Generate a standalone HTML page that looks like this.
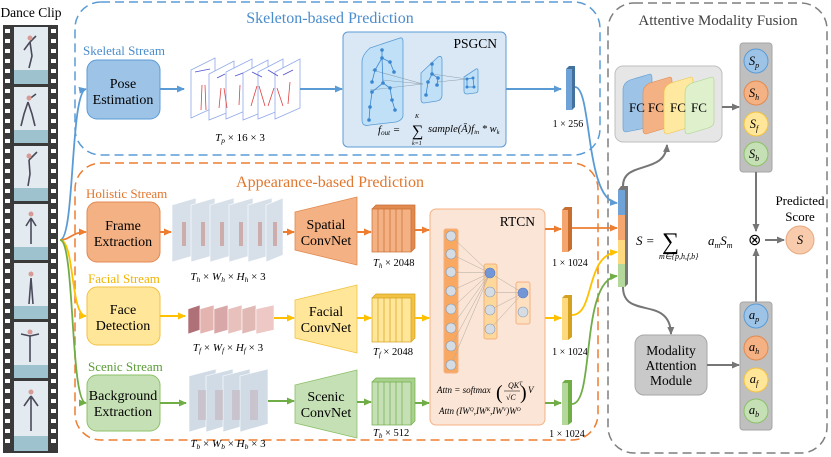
<!DOCTYPE html>
<html><head><meta charset="utf-8"><style>
html,body{margin:0;padding:0;background:#fff;}
svg{display:block;font-family:"Liberation Serif",serif;}
.it{font-style:italic;}
</style></head><body>
<svg width="831" height="457" viewBox="0 0 831 457" xmlns="http://www.w3.org/2000/svg">
<defs>
<marker id="ab" markerWidth="8" markerHeight="8" refX="7" refY="4" orient="auto" markerUnits="userSpaceOnUse"><path d="M0,0.5 L8,4 L0,7.5z" fill="#5b9bd5"/></marker>
<marker id="ao" markerWidth="8" markerHeight="8" refX="7" refY="4" orient="auto" markerUnits="userSpaceOnUse"><path d="M0,0.5 L8,4 L0,7.5z" fill="#ed7d31"/></marker>
<marker id="ay" markerWidth="8" markerHeight="8" refX="7" refY="4" orient="auto" markerUnits="userSpaceOnUse"><path d="M0,0.5 L8,4 L0,7.5z" fill="#ffc000"/></marker>
<marker id="ag" markerWidth="8" markerHeight="8" refX="7" refY="4" orient="auto" markerUnits="userSpaceOnUse"><path d="M0,0.5 L8,4 L0,7.5z" fill="#70ad47"/></marker>
<marker id="ak" markerWidth="8" markerHeight="8" refX="7" refY="4" orient="auto" markerUnits="userSpaceOnUse"><path d="M0,0.5 L8,4 L0,7.5z" fill="#767676"/></marker>
</defs>

<!-- film strip -->
<text x="31" y="17" font-size="13.5" text-anchor="middle">Dance Clip</text>
<rect x="3" y="25" width="55" height="428" fill="#3a3a3a"/>
<g fill="#e3ebf0">
<rect x="14" y="27" width="34" height="57"/><rect x="14" y="87" width="34" height="56"/><rect x="14" y="146" width="34" height="55"/><rect x="14" y="204" width="34" height="56"/><rect x="14" y="263" width="34" height="56"/><rect x="14" y="322" width="34" height="56"/><rect x="14" y="381" width="34" height="70"/>
</g>
<g fill="#9ec3cf"><rect x="14" y="70" width="34" height="14"/><rect x="14" y="130" width="34" height="13"/><rect x="14" y="188" width="34" height="13"/><rect x="14" y="247" width="34" height="13"/><rect x="14" y="306" width="34" height="13"/><rect x="14" y="365" width="34" height="13"/><rect x="14" y="436" width="34" height="15"/></g>
<g stroke="#4a4a5a" stroke-width="1.6" fill="none">
<path d="M30,42 l2,14 l-3,12 M30,42 l-6,8 M30,42 l6,-6 M28,102 l-4,12 l-3,12 M28,102 l4,12 l3,12 M28,100 l8,-6 M29,160 l1,14 l-2,12 M29,160 l8,-8 M31,218 l0,26 M31,218 l-5,8 M31,218 l5,8 M31,278 l-2,26 M31,278 l2,26 M30,336 l0,26 M30,336 l-9,-2 M30,336 l9,-2 M31,396 l0,35 M31,396 l-7,10 M31,396 l7,10"/></g>
<g fill="#d89a94"><circle cx="30" cy="38" r="2.5"/><circle cx="29" cy="98" r="2.5"/><circle cx="29" cy="156" r="2.5"/><circle cx="31" cy="214" r="2.5"/><circle cx="31" cy="274" r="2.5"/><circle cx="30" cy="332" r="2.5"/><circle cx="31" cy="392" r="2.5"/></g>
<g fill="#fff">
<rect x="5" y="29" width="5" height="4"/><rect x="5" y="39" width="5" height="4"/><rect x="5" y="49" width="5" height="4"/><rect x="5" y="59" width="5" height="4"/><rect x="5" y="69" width="5" height="4"/><rect x="5" y="79" width="5" height="4"/><rect x="5" y="89" width="5" height="4"/><rect x="5" y="99" width="5" height="4"/><rect x="5" y="109" width="5" height="4"/><rect x="5" y="119" width="5" height="4"/><rect x="5" y="129" width="5" height="4"/><rect x="5" y="139" width="5" height="4"/><rect x="5" y="149" width="5" height="4"/><rect x="5" y="159" width="5" height="4"/><rect x="5" y="169" width="5" height="4"/><rect x="5" y="179" width="5" height="4"/><rect x="5" y="189" width="5" height="4"/><rect x="5" y="199" width="5" height="4"/><rect x="5" y="209" width="5" height="4"/><rect x="5" y="219" width="5" height="4"/><rect x="5" y="229" width="5" height="4"/><rect x="5" y="239" width="5" height="4"/><rect x="5" y="249" width="5" height="4"/><rect x="5" y="259" width="5" height="4"/><rect x="5" y="269" width="5" height="4"/><rect x="5" y="279" width="5" height="4"/><rect x="5" y="289" width="5" height="4"/><rect x="5" y="299" width="5" height="4"/><rect x="5" y="309" width="5" height="4"/><rect x="5" y="319" width="5" height="4"/><rect x="5" y="329" width="5" height="4"/><rect x="5" y="339" width="5" height="4"/><rect x="5" y="349" width="5" height="4"/><rect x="5" y="359" width="5" height="4"/><rect x="5" y="369" width="5" height="4"/><rect x="5" y="379" width="5" height="4"/><rect x="5" y="389" width="5" height="4"/><rect x="5" y="399" width="5" height="4"/><rect x="5" y="409" width="5" height="4"/><rect x="5" y="419" width="5" height="4"/><rect x="5" y="429" width="5" height="4"/><rect x="5" y="439" width="5" height="4"/>
</g>
<g fill="#fff" transform="translate(46,0)">
<rect x="5" y="29" width="5" height="4"/><rect x="5" y="39" width="5" height="4"/><rect x="5" y="49" width="5" height="4"/><rect x="5" y="59" width="5" height="4"/><rect x="5" y="69" width="5" height="4"/><rect x="5" y="79" width="5" height="4"/><rect x="5" y="89" width="5" height="4"/><rect x="5" y="99" width="5" height="4"/><rect x="5" y="109" width="5" height="4"/><rect x="5" y="119" width="5" height="4"/><rect x="5" y="129" width="5" height="4"/><rect x="5" y="139" width="5" height="4"/><rect x="5" y="149" width="5" height="4"/><rect x="5" y="159" width="5" height="4"/><rect x="5" y="169" width="5" height="4"/><rect x="5" y="179" width="5" height="4"/><rect x="5" y="189" width="5" height="4"/><rect x="5" y="199" width="5" height="4"/><rect x="5" y="209" width="5" height="4"/><rect x="5" y="219" width="5" height="4"/><rect x="5" y="229" width="5" height="4"/><rect x="5" y="239" width="5" height="4"/><rect x="5" y="249" width="5" height="4"/><rect x="5" y="259" width="5" height="4"/><rect x="5" y="269" width="5" height="4"/><rect x="5" y="279" width="5" height="4"/><rect x="5" y="289" width="5" height="4"/><rect x="5" y="299" width="5" height="4"/><rect x="5" y="309" width="5" height="4"/><rect x="5" y="319" width="5" height="4"/><rect x="5" y="329" width="5" height="4"/><rect x="5" y="339" width="5" height="4"/><rect x="5" y="349" width="5" height="4"/><rect x="5" y="359" width="5" height="4"/><rect x="5" y="369" width="5" height="4"/><rect x="5" y="379" width="5" height="4"/><rect x="5" y="389" width="5" height="4"/><rect x="5" y="399" width="5" height="4"/><rect x="5" y="409" width="5" height="4"/><rect x="5" y="419" width="5" height="4"/><rect x="5" y="429" width="5" height="4"/><rect x="5" y="439" width="5" height="4"/>
</g>

<!-- dashed containers -->
<rect x="75" y="2" width="525" height="153" rx="26" fill="none" stroke="#5b9bd5" stroke-width="1.5" stroke-dasharray="9,5"/>
<rect x="75" y="163" width="523" height="277" rx="26" fill="none" stroke="#ed7d31" stroke-width="1.5" stroke-dasharray="9,5"/>
<rect x="608" y="3" width="219" height="450" rx="26" fill="none" stroke="#7f7f7f" stroke-width="1.5" stroke-dasharray="9,5"/>
<text x="330" y="23" font-size="16" fill="#4a8ccc" text-anchor="middle">Skeleton-based Prediction</text>
<text x="330" y="187" font-size="16" fill="#e0772e" text-anchor="middle">Appearance-based Prediction</text>
<text x="718" y="25" font-size="15" fill="#404040" text-anchor="middle">Attentive Modality Fusion</text>

<!-- skeletal stream -->
<text x="83" y="55" font-size="13" fill="#4a8ccc">Skeletal Stream</text>
<rect x="87" y="60" width="73" height="59" rx="10" fill="#9dc3e6" stroke="#5b9bd5"/>
<text x="123" y="88" font-size="14" text-anchor="middle">Pose</text>
<text x="123" y="104" font-size="14" text-anchor="middle">Estimation</text>
<line x1="160" y1="89" x2="184" y2="89" stroke="#5b9bd5" stroke-width="2" marker-end="url(#ab)"/>
<g stroke="#8fa8e8" fill="#fff" stroke-width="0.8">
<path d="M191,70 L215,58 L215,107 L191,118z"/><path d="M209,74 L234,61 L234,110 L209,120z"/><path d="M226,72 L252,59 L252,108 L226,119z"/><path d="M243,73 L268,60 L268,110 L243,120z"/><path d="M258,72 L283,59 L283,109 L258,119z"/><path d="M275,72 L300,59 L300,108 L275,119z"/>
</g>
<g stroke="#e04040" stroke-width="0.8" fill="none"><path d="M202,85 l-1,25 M205,85 l1,25 M221,88 l-2,20 M224,88 l3,20 M240,85 l-1,20 M257,86 l-6,20 M259,86 l6,20 M274,88 l-6,18 M277,88 l6,18 M290,82 l-2,22"/></g>
<g stroke="#5050d0" stroke-width="0.8" fill="none"><path d="M195,72 l15,-3 M217,78 l8,-4 M235,76 l8,-3 M252,72 l10,5 M268,70 l10,6 M283,75 l10,-5"/></g>
<text x="240" y="141" font-size="11" text-anchor="middle"><tspan class="it">T</tspan><tspan font-size="7.5" class="it" dy="2">p</tspan><tspan dy="-2"> × 16 × 3</tspan></text>
<line x1="300" y1="89" x2="342" y2="89" stroke="#5b9bd5" stroke-width="2" marker-end="url(#ab)"/>
<rect x="343" y="32" width="163" height="115" rx="5" fill="#dae8f5" stroke="#5b9bd5"/>
<text x="497" y="48" font-size="13.5" text-anchor="end">PSGCN</text>
<path d="M362,62 Q362,55 370,48 L400,38 Q403,37 403,42 L403,115 Q403,120 396,122 L370,125 Q362,127 362,120z" fill="#bfe0f7" stroke="#5b9bd5" stroke-width="0.8"/>
<path d="M421,73 L438,57 Q442,55 442,60 L442,95 Q442,100 437,101 L424,103 Q421,103 421,99z" fill="#bfe0f7" stroke="#5b9bd5" stroke-width="0.8"/>
<path d="M464,77 L476,69 Q478,68 478,71 L478,90 Q478,93 475,93 L467,94 Q464,94 464,91z" fill="#bfe0f7" stroke="#5b9bd5" stroke-width="0.8"/>
<g stroke="#8a9fb0" stroke-width="0.6"><line x1="372" y1="70" x2="423" y2="84"/><line x1="370" y1="90" x2="423" y2="84"/><line x1="382" y1="80" x2="423" y2="84"/><line x1="432" y1="74" x2="467" y2="79"/><line x1="437" y1="82" x2="467" y2="79"/></g>
<g stroke="#3a86d0" stroke-width="0.8" fill="none"><path d="M382,50 L382,58 L375,70 L372,82 M382,58 L390,62 L394,72 M382,58 L383,83 L372,92 L370,107 L369,120 M383,83 L390,88 L392,100 L395,110"/><path d="M432,64 L432,74 L428,82 L426,95 M432,74 L438,78 L437,85"/><path d="M467,79 L473,78 L474,87 L467,87z"/></g>
<g fill="#3a86d0"><circle cx="382" cy="50" r="1.8"/><circle cx="382" cy="58" r="1.8"/><circle cx="375" cy="70" r="1.8"/><circle cx="372" cy="82" r="1.8"/><circle cx="390" cy="62" r="1.8"/><circle cx="394" cy="72" r="1.8"/><circle cx="383" cy="83" r="1.8"/><circle cx="372" cy="92" r="1.8"/><circle cx="370" cy="107" r="1.8"/><circle cx="369" cy="120" r="1.8"/><circle cx="390" cy="88" r="1.8"/><circle cx="392" cy="100" r="1.8"/><circle cx="395" cy="110" r="1.8"/><circle cx="432" cy="64" r="1.8"/><circle cx="432" cy="74" r="1.8"/><circle cx="428" cy="82" r="1.8"/><circle cx="426" cy="95" r="1.8"/><circle cx="438" cy="78" r="1.8"/><circle cx="437" cy="85" r="1.8"/><circle cx="467" cy="79" r="1.5"/><circle cx="473" cy="78" r="1.5"/><circle cx="474" cy="87" r="1.5"/><circle cx="467" cy="87" r="1.5"/></g>
<text x="378" y="133" font-size="11" class="it">f<tspan font-size="7" dy="2">out</tspan><tspan dy="-2"> = </tspan></text>
<text x="412" y="136" font-size="16">∑</text>
<text x="415" y="118" font-size="6" class="it">K</text>
<text x="412" y="145" font-size="6" class="it">k=1</text>
<text x="428" y="132" font-size="10.5" class="it">sample(Ā)f<tspan font-size="6.5" dy="2">in</tspan><tspan dy="-2"> * w</tspan><tspan font-size="6.5" dy="2">k</tspan></text>
<line x1="506" y1="89" x2="561" y2="89" stroke="#5b9bd5" stroke-width="2" marker-end="url(#ab)"/>
<path d="M566,69 L569,66 L575,66 L575,107 L572,110z" fill="#41719c"/>
<rect x="566" y="69" width="6" height="41" fill="#6fa3d8"/>
<text x="568" y="127" font-size="10" text-anchor="middle">1 × 256</text>

<!-- input curves -->
<path d="M60,240 C75,240 70,92 86,89" stroke="#5b9bd5" stroke-width="1.8" fill="none" marker-end="url(#ab)"/>
<path d="M60,240 C70,240 72,232 86,232" stroke="#ed7d31" stroke-width="1.8" fill="none" marker-end="url(#ao)"/>
<path d="M60,240 C75,240 70,316 86,316" stroke="#ffc000" stroke-width="1.8" fill="none" marker-end="url(#ay)"/>
<path d="M60,240 C75,240 70,403 86,403" stroke="#70ad47" stroke-width="1.8" fill="none" marker-end="url(#ag)"/>

<!-- holistic -->
<text x="86" y="198" font-size="13" fill="#e0772e">Holistic Stream</text>
<rect x="87" y="202" width="73" height="60" rx="10" fill="#f4b183" stroke="#e08a50"/>
<text x="123" y="230" font-size="14" text-anchor="middle">Frame</text>
<text x="123" y="246" font-size="14" text-anchor="middle">Extraction</text>
<line x1="160" y1="232" x2="171" y2="232" stroke="#ed7d31" stroke-width="2" marker-end="url(#ao)"/>
<g stroke="#fff" stroke-width="0.6" fill="#d5dfe8" opacity="0.95">
<path d="M172,205 L196,198 L196,255 L172,262z"/><path d="M191,205 L215,198 L215,255 L191,262z"/><path d="M210,205 L234,198 L234,255 L210,262z"/><path d="M229,205 L253,198 L253,255 L229,262z"/><path d="M248,205 L272,198 L272,255 L248,262z"/><path d="M266,205 L283,198 L283,255 L266,262z"/></g>
<g fill="#c88a84" opacity="0.6"><rect x="182" y="222" width="4" height="24"/><rect x="201" y="222" width="4" height="24"/><rect x="220" y="222" width="4" height="24"/><rect x="239" y="222" width="4" height="24"/><rect x="258" y="222" width="4" height="24"/><rect x="273" y="222" width="4" height="24"/></g>
<text x="228" y="280" font-size="11" text-anchor="middle" class="it">T<tspan font-size="7.5" dy="2">h</tspan><tspan dy="-2" font-style="normal"> × </tspan>W<tspan font-size="7.5" dy="2">h</tspan><tspan dy="-2" font-style="normal"> × </tspan>H<tspan font-size="7.5" dy="2">h</tspan><tspan dy="-2" font-style="normal"> × 3</tspan></text>
<line x1="283" y1="232" x2="294" y2="232" stroke="#ed7d31" stroke-width="2" marker-end="url(#ao)"/>
<path d="M295,212 L357,197 L357,265 L295,250z" fill="#f4b183" stroke="#e08a50" stroke-width="0.8"/>
<text x="326" y="229" font-size="14" text-anchor="middle">Spatial</text>
<text x="326" y="245" font-size="14" text-anchor="middle">ConvNet</text>
<line x1="357" y1="232" x2="371" y2="232" stroke="#ed7d31" stroke-width="2" marker-end="url(#ao)"/>

<!-- facial -->
<text x="88" y="283" font-size="13" fill="#f0b400">Facial Stream</text>
<rect x="87" y="287" width="73" height="58" rx="10" fill="#ffe699" stroke="#f2c242"/>
<text x="123" y="314" font-size="14" text-anchor="middle">Face</text>
<text x="123" y="330" font-size="14" text-anchor="middle">Detection</text>
<line x1="160" y1="316" x2="185" y2="316" stroke="#ffc000" stroke-width="2" marker-end="url(#ay)"/>
<g stroke="#fff" stroke-width="0.6"><path d="M188,309 L200,305 L200,330 L188,334z" fill="#b07078"/><path d="M200,309 L214,305 L214,330 L200,334z" fill="#e4b4b0"/><path d="M214,309 L228,305 L228,330 L214,334z" fill="#d8a8a8"/><path d="M228,309 L242,305 L242,330 L228,334z" fill="#e8c0bc"/><path d="M242,309 L256,305 L256,330 L242,334z" fill="#e0b8b4"/><path d="M256,309 L274,305 L274,330 L256,334z" fill="#edc8c4"/></g>
<text x="228" y="351" font-size="11" text-anchor="middle" class="it">T<tspan font-size="7.5" dy="2">f</tspan><tspan dy="-2" font-style="normal"> × </tspan>W<tspan font-size="7.5" dy="2">f</tspan><tspan dy="-2" font-style="normal"> × </tspan>H<tspan font-size="7.5" dy="2">f</tspan><tspan dy="-2" font-style="normal"> × 3</tspan></text>
<line x1="274" y1="318" x2="294" y2="318" stroke="#ffc000" stroke-width="2" marker-end="url(#ay)"/>
<path d="M295,300 L357,285 L357,353 L295,338z" fill="#ffe699" stroke="#f2c242" stroke-width="0.8"/>
<text x="326" y="316" font-size="14" text-anchor="middle">Facial</text>
<text x="326" y="332" font-size="14" text-anchor="middle">ConvNet</text>
<line x1="357" y1="318" x2="371" y2="318" stroke="#ffc000" stroke-width="2" marker-end="url(#ay)"/>

<!-- scenic -->
<text x="88" y="371" font-size="13" fill="#5a9c38">Scenic Stream</text>
<rect x="87" y="375" width="73" height="56" rx="10" fill="#c5e0b4" stroke="#8cc06a"/>
<text x="123" y="400" font-size="14" text-anchor="middle">Background</text>
<text x="123" y="416" font-size="14" text-anchor="middle">Extraction</text>
<line x1="160" y1="403" x2="186" y2="403" stroke="#70ad47" stroke-width="2" marker-end="url(#ag)"/>
<g stroke="#fff" stroke-width="0.6" fill="#d0dbe6"><path d="M189,376 L216,369 L216,424 L189,432z"/><path d="M206,376 L233,369 L233,424 L206,432z"/><path d="M223,376 L250,369 L250,424 L223,432z"/><path d="M240,376 L268,369 L268,424 L240,432z"/></g>
<g fill="#c0a8b0" opacity="0.45"><rect x="198" y="390" width="8" height="30"/><rect x="215" y="390" width="8" height="30"/><rect x="232" y="390" width="8" height="30"/><rect x="250" y="390" width="8" height="30"/></g>
<text x="228" y="447" font-size="11" text-anchor="middle" class="it">T<tspan font-size="7.5" dy="2">b</tspan><tspan dy="-2" font-style="normal"> × </tspan>W<tspan font-size="7.5" dy="2">b</tspan><tspan dy="-2" font-style="normal"> × </tspan>H<tspan font-size="7.5" dy="2">b</tspan><tspan dy="-2" font-style="normal"> × 3</tspan></text>
<line x1="268" y1="401" x2="294" y2="401" stroke="#70ad47" stroke-width="2" marker-end="url(#ag)"/>
<path d="M295,385 L357,370 L357,438 L295,423z" fill="#c5e0b4" stroke="#8cc06a" stroke-width="0.8"/>
<text x="326" y="401" font-size="14" text-anchor="middle">Scenic</text>
<text x="326" y="417" font-size="14" text-anchor="middle">ConvNet</text>
<line x1="357" y1="402" x2="371" y2="402" stroke="#70ad47" stroke-width="2" marker-end="url(#ag)"/>

<!-- feature stacks -->
<g stroke-width="0.7">
<path d="M372,209 L376,205 L415,205 L415,248 L411,252z" fill="#e08a50" stroke="#c86d30"/>
<rect x="372" y="209" width="39" height="43" fill="#f4b183" stroke="#c86d30"/>
<path d="M378,209 V252 M384,209 V252 M390,209 V252 M396,209 V252 M402,209 V252" stroke="#c86d30"/>
<path d="M372,298 L376,294 L415,294 L415,338 L411,342z" fill="#f2c242" stroke="#d4a020"/>
<rect x="372" y="298" width="39" height="44" fill="#ffe699" stroke="#d4a020"/>
<path d="M378,298 V342 M384,298 V342 M390,298 V342 M396,298 V342 M402,298 V342" stroke="#d4a020"/>
<path d="M372,382 L376,378 L415,378 L415,421 L411,425z" fill="#a9d18e" stroke="#70ad47"/>
<rect x="372" y="382" width="39" height="43" fill="#c5e0b4" stroke="#70ad47"/>
<path d="M378,382 V425 M384,382 V425 M390,382 V425 M396,382 V425 M402,382 V425" stroke="#70ad47"/>
</g>
<text x="373" y="266" font-size="10.5" class="it">T<tspan font-size="7" dy="2">h</tspan><tspan dy="-2" font-style="normal"> × 2048</tspan></text>
<text x="373" y="355" font-size="10.5" class="it">T<tspan font-size="7" dy="2">f</tspan><tspan dy="-2" font-style="normal"> × 2048</tspan></text>
<text x="373" y="436" font-size="10.5" class="it">T<tspan font-size="7" dy="2">b</tspan><tspan dy="-2" font-style="normal"> × 512</tspan></text>
<line x1="415" y1="230" x2="429" y2="230" stroke="#ed7d31" stroke-width="2" marker-end="url(#ao)"/>
<line x1="415" y1="318" x2="429" y2="318" stroke="#ffc000" stroke-width="2" marker-end="url(#ay)"/>
<line x1="415" y1="403" x2="429" y2="403" stroke="#70ad47" stroke-width="2" marker-end="url(#ag)"/>

<!-- RTCN -->
<rect x="430" y="209" width="115" height="216" rx="6" fill="#fbe5d6" stroke="#f4b183"/>
<text x="535" y="226" font-size="13.5" text-anchor="end">RTCN</text>
<rect x="444" y="229" width="14" height="144" rx="2" fill="#f8a860" stroke="#f4b183"/>
<rect x="484" y="264" width="13" height="75" rx="2" fill="#fdd89a" stroke="#f4b183"/>
<rect x="516" y="282" width="14" height="42" rx="2" fill="#fde0c0" stroke="#f4b183"/>
<g stroke="#b0a8a0" stroke-width="0.5">
<line x1="451" y1="236" x2="490" y2="273"/><line x1="451" y1="254" x2="490" y2="273"/><line x1="451" y1="272" x2="490" y2="273"/><line x1="451" y1="291" x2="490" y2="273"/><line x1="451" y1="309" x2="490" y2="273"/><line x1="451" y1="328" x2="490" y2="273"/><line x1="451" y1="346" x2="490" y2="273"/><line x1="451" y1="365" x2="490" y2="273"/>
<line x1="490" y1="273" x2="523" y2="293"/><line x1="490" y1="292" x2="523" y2="293"/><line x1="490" y1="310" x2="523" y2="293"/><line x1="490" y1="329" x2="523" y2="293"/>
</g>
<g fill="#d6dce4" stroke="#8a9ab0" stroke-width="0.6">
<circle cx="451" cy="236" r="5"/><circle cx="451" cy="254" r="5"/><circle cx="451" cy="272" r="5"/><circle cx="451" cy="291" r="5"/><circle cx="451" cy="309" r="5"/><circle cx="451" cy="328" r="5"/><circle cx="451" cy="346" r="5"/><circle cx="451" cy="365" r="5"/>
<circle cx="490" cy="292" r="5"/><circle cx="490" cy="310" r="5"/><circle cx="490" cy="329" r="5"/><circle cx="523" cy="312" r="5"/>
</g>
<circle cx="490" cy="273" r="5" fill="#7396d6" stroke="#5b7bc0" stroke-width="0.6"/>
<circle cx="523" cy="293" r="5" fill="#7396d6" stroke="#5b7bc0" stroke-width="0.6"/>
<text x="437" y="393" font-size="9" class="it">Attn = softmax</text>
<text x="496" y="399" font-size="20" font-weight="lighter">(</text>
<text x="508" y="388" font-size="8" class="it">QK<tspan font-size="5.5" dy="-3">T</tspan></text>
<line x1="504" y1="391" x2="520" y2="391" stroke="#000" stroke-width="0.5"/>
<text x="506" y="400" font-size="8" class="it">√C</text>
<text x="520" y="399" font-size="20">)</text>
<text x="528" y="393" font-size="9" class="it">V</text>
<text x="439" y="414" font-size="9" class="it">Attn (IW<tspan font-size="5.5" dy="-3">Q</tspan><tspan dy="3">,IW</tspan><tspan font-size="5.5" dy="-3">K</tspan><tspan dy="3">,IW</tspan><tspan font-size="5.5" dy="-3">V</tspan><tspan dy="3">)W</tspan><tspan font-size="5.5" dy="-3">O</tspan></text>
<line x1="545" y1="229" x2="561" y2="229" stroke="#ed7d31" stroke-width="2" marker-end="url(#ao)"/>
<line x1="545" y1="318" x2="561" y2="318" stroke="#ffc000" stroke-width="2" marker-end="url(#ay)"/>
<line x1="545" y1="403" x2="561" y2="403" stroke="#70ad47" stroke-width="2" marker-end="url(#ag)"/>

<!-- output bars -->
<path d="M562,210 L565,207 L572,207 L572,249 L568,252z" fill="#c86d30"/><rect x="562" y="210" width="6" height="42" fill="#f4a66e"/>
<path d="M562,298 L565,295 L572,295 L572,337 L568,340z" fill="#d4a020"/><rect x="562" y="298" width="6" height="42" fill="#ffd980"/>
<path d="M562,383 L565,380 L572,380 L572,422 L568,425z" fill="#70ad47"/><rect x="562" y="383" width="6" height="42" fill="#b4d89c"/>
<text x="570" y="266" font-size="10" text-anchor="middle">1 × 1024</text>
<text x="570" y="355" font-size="10" text-anchor="middle">1 × 1024</text>
<text x="567" y="437" font-size="10" text-anchor="middle">1 × 1024</text>

<!-- to concat -->
<path d="M575,87 C592,87 585,200 617,203" stroke="#5b9bd5" stroke-width="1.8" fill="none" marker-end="url(#ab)"/>
<line x1="572" y1="228" x2="617" y2="228" stroke="#ed7d31" stroke-width="1.8" marker-end="url(#ao)"/>
<path d="M572,315 C595,315 585,255 617,252" stroke="#ffc000" stroke-width="1.8" fill="none" marker-end="url(#ay)"/>
<path d="M572,404 C595,404 580,280 617,276" stroke="#70ad47" stroke-width="1.8" fill="none" marker-end="url(#ag)"/>
<!-- concat bar -->
<path d="M618,190 L621,186 L628,186 L628,284 L625,287z" fill="#777"/>
<rect x="618" y="190" width="7" height="25" fill="#6fa3d8"/>
<rect x="618" y="215" width="7" height="25" fill="#f4a66e"/>
<rect x="618" y="240" width="7" height="24" fill="#ffd980"/>
<rect x="618" y="264" width="7" height="23" fill="#b4d89c"/>

<!-- fusion -->
<path d="M623,186 C623,160 665,175 667,145" stroke="#767676" stroke-width="2" fill="none" marker-end="url(#ak)"/>
<path d="M623,287 C623,320 670,295 671,334" stroke="#767676" stroke-width="2" fill="none" marker-end="url(#ak)"/>
<rect x="615" y="66" width="107" height="76" rx="8" fill="#e6e6e6" stroke="#bfbfbf"/>
<path d="M623,90 Q623,83 630,80 L650,74 Q652,74 652,78 L652,122 Q652,126 646,128 L626,132 Q623,132 623,128z" fill="#9dc3e6" stroke="#5b9bd5" stroke-width="0.6"/>
<path d="M643,93 Q643,86 650,83 L670,77 Q672,77 672,81 L672,122 Q672,126 666,128 L646,134 Q643,134 643,130z" fill="#f4b183" stroke="#e08a50" stroke-width="0.6"/>
<path d="M664,93 Q664,86 671,83 L691,77 Q693,77 693,81 L693,122 Q693,126 687,128 L667,134 Q664,134 664,130z" fill="#ffe9a0" stroke="#f2c242" stroke-width="0.6"/>
<path d="M685,93 Q685,86 692,83 L712,77 Q714,77 714,81 L714,122 Q714,126 708,128 L688,134 Q685,134 685,130z" fill="#dff0cc" stroke="#a9d18e" stroke-width="0.6"/>
<text x="629" y="112" font-size="13">FC</text><text x="648" y="112" font-size="13">FC</text><text x="670" y="112" font-size="13">FC</text><text x="691" y="112" font-size="13">FC</text>
<line x1="722" y1="107" x2="739" y2="107" stroke="#767676" stroke-width="2" marker-end="url(#ak)"/>
<rect x="740" y="43" width="32" height="129" rx="3" fill="#bfbfbf" stroke="#a6a6a6"/>
<circle cx="756" cy="61" r="12" fill="#9dc3e6" stroke="#5b9bd5"/>
<circle cx="756" cy="93" r="12" fill="#f4b183" stroke="#e08a50"/>
<circle cx="756" cy="124" r="12" fill="#ffe699" stroke="#f2c242"/>
<circle cx="756" cy="154" r="12" fill="#c5e0b4" stroke="#8cc06a"/>
<g font-size="12.5" class="it" text-anchor="middle"><text x="754" y="65">S<tspan font-size="8" dy="3">p</tspan></text><text x="754" y="97">S<tspan font-size="8" dy="3">h</tspan></text><text x="754" y="128">S<tspan font-size="8" dy="3">f</tspan></text><text x="754" y="158">S<tspan font-size="8" dy="3">b</tspan></text></g>
<line x1="756" y1="172" x2="756" y2="231" stroke="#767676" stroke-width="2" marker-end="url(#ak)"/>
<line x1="756" y1="302" x2="756" y2="249" stroke="#767676" stroke-width="2" marker-end="url(#ak)"/>
<text x="748" y="245" font-size="16">⊗</text>
<line x1="765" y1="240" x2="784" y2="240" stroke="#767676" stroke-width="2" marker-end="url(#ak)"/>
<circle cx="800" cy="240" r="14" fill="#f8cbad" stroke="#e8a880"/>
<text x="800" y="244" font-size="12.5" class="it" text-anchor="middle">S</text>
<text x="800" y="205" font-size="13" text-anchor="middle">Predicted</text>
<text x="800" y="221" font-size="13" text-anchor="middle">Score</text>
<text x="636" y="245" font-size="13" class="it">S =</text>
<text x="662" y="249" font-size="24">∑</text>
<text x="659" y="259" font-size="8" class="it">m∈{p,h,f,b}</text>
<text x="708" y="245" font-size="13" class="it">a<tspan font-size="8" dy="3">m</tspan><tspan dy="-3">S</tspan><tspan font-size="8" dy="3">m</tspan></text>

<rect x="635" y="335" width="72" height="60" rx="9" fill="#c9c9c9" stroke="#a6a6a6"/>
<text x="671" y="355" font-size="13.5" text-anchor="middle">Modality</text>
<text x="671" y="370" font-size="13.5" text-anchor="middle">Attention</text>
<text x="671" y="385" font-size="13.5" text-anchor="middle">Module</text>
<line x1="707" y1="365" x2="739" y2="365" stroke="#767676" stroke-width="2" marker-end="url(#ak)"/>
<rect x="740" y="302" width="32" height="128" rx="3" fill="#bfbfbf" stroke="#a6a6a6"/>
<circle cx="756" cy="316" r="12" fill="#9dc3e6" stroke="#5b9bd5"/>
<circle cx="756" cy="348" r="12" fill="#f4b183" stroke="#e08a50"/>
<circle cx="756" cy="380" r="12" fill="#ffe699" stroke="#f2c242"/>
<circle cx="756" cy="411" r="12" fill="#c5e0b4" stroke="#8cc06a"/>
<g font-size="12.5" class="it" text-anchor="middle"><text x="754" y="319">a<tspan font-size="8" dy="3">p</tspan></text><text x="754" y="351">a<tspan font-size="8" dy="3">h</tspan></text><text x="754" y="383">a<tspan font-size="8" dy="3">f</tspan></text><text x="754" y="414">a<tspan font-size="8" dy="3">b</tspan></text></g>
</svg>
</body></html>
